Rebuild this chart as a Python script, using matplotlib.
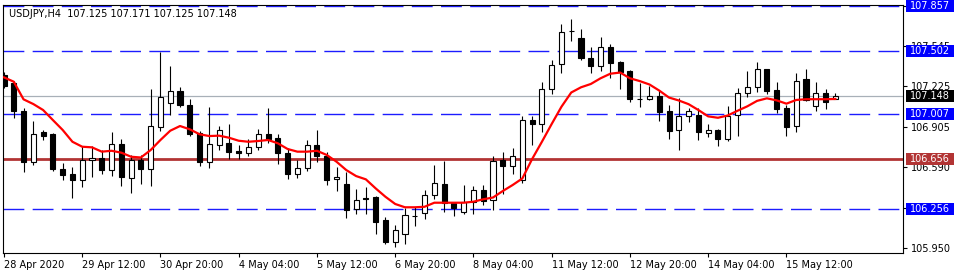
import matplotlib
matplotlib.use("Agg")
import matplotlib.pyplot as plt
from matplotlib.patches import Rectangle
from matplotlib.transforms import blended_transform_factory
import numpy as np

# USDJPY H4 bars
symbol = "USDJPY,H4"
opens = [107.314, 107.252, 107.035, 106.626, 106.862, 106.850, 106.578, 106.539, 106.488, 106.645,
         106.665, 106.563, 106.771, 106.507, 106.649, 106.578, 106.909, 107.098, 107.185, 107.078,
         106.858, 106.626, 106.767, 106.783, 106.716, 106.704, 106.744, 106.854, 106.818, 106.704,
         106.539, 106.586, 106.763, 106.677, 106.493, 106.456, 106.259, 106.346, 106.354, 106.173,
         105.996, 106.066, 106.204, 106.228, 106.370, 106.456, 106.307, 106.232, 106.311, 106.413,
         106.334, 106.645, 106.598, 106.488, 106.964, 106.929, 107.208, 107.401, 107.665, 107.610,
         107.452, 107.385, 107.533, 107.419, 107.348, 107.126, 107.122, 107.153, 107.035, 106.885,
         106.988, 106.996, 106.858, 106.885, 106.808, 106.999, 107.173, 107.218, 107.359, 107.196,
         107.052, 106.913, 107.281, 107.070, 107.175, 107.125]
highs = [107.338, 107.271, 107.055, 106.956, 106.882, 106.858, 106.618, 106.594, 106.752, 106.752,
         106.724, 106.862, 106.807, 106.681, 106.685, 107.204, 107.495, 107.389, 107.224, 107.129,
         106.870, 107.059, 106.917, 106.925, 106.763, 106.811, 106.893, 107.051, 106.854, 106.736,
         106.645, 106.799, 106.882, 106.712, 106.590, 106.551, 106.417, 106.429, 106.358, 106.200,
         106.133, 106.267, 106.275, 106.413, 106.606, 106.641, 106.314, 106.448, 106.437, 106.452,
         106.677, 106.712, 106.736, 106.992, 106.988, 107.263, 107.433, 107.716, 107.752, 107.674,
         107.533, 107.614, 107.559, 107.425, 107.354, 107.252, 107.232, 107.196, 107.078, 107.133,
         107.051, 107.051, 106.929, 106.889, 107.070, 107.210, 107.348, 107.419, 107.362, 107.257,
         107.078, 107.330, 107.359, 107.262, 107.202, 107.171]
lows = [107.212, 106.980, 106.551, 106.606, 106.799, 106.559, 106.488, 106.346, 106.433, 106.511,
        106.535, 106.523, 106.440, 106.389, 106.456, 106.437, 106.877, 106.996, 107.066, 106.834,
        106.598, 106.586, 106.728, 106.653, 106.653, 106.677, 106.724, 106.783, 106.614, 106.492,
        106.500, 106.555, 106.626, 106.448, 106.405, 106.192, 106.224, 106.224, 106.063, 105.984,
        105.964, 105.980, 106.122, 106.177, 106.342, 106.236, 106.204, 106.224, 106.220, 106.291,
        106.248, 106.377, 106.539, 106.468, 106.763, 106.862, 107.169, 107.330, 107.586, 107.433,
        107.328, 107.346, 107.291, 107.202, 107.104, 107.066, 107.118, 106.955, 106.808, 106.724,
        106.944, 106.803, 106.826, 106.755, 106.795, 106.838, 107.144, 107.183, 107.169, 107.013,
        106.834, 106.868, 107.112, 107.033, 107.044, 107.125]
closes = [107.228, 107.031, 106.626, 106.854, 106.838, 106.575, 106.527, 106.488, 106.649, 106.665,
          106.570, 106.771, 106.515, 106.649, 106.575, 106.913, 107.145, 107.185, 107.078, 106.854,
          106.626, 106.771, 106.882, 106.712, 106.700, 106.744, 106.854, 106.814, 106.704, 106.539,
          106.586, 106.763, 106.677, 106.488, 106.511, 106.255, 106.334, 106.338, 106.161, 105.996,
          106.098, 106.212, 106.208, 106.366, 106.464, 106.303, 106.267, 106.314, 106.413, 106.326,
          106.641, 106.598, 106.677, 106.964, 106.929, 107.208, 107.393, 107.657, 107.661, 107.452,
          107.385, 107.533, 107.413, 107.342, 107.122, 107.122, 107.152, 107.027, 106.876, 106.992,
          107.031, 106.862, 106.885, 106.811, 106.992, 107.175, 107.222, 107.359, 107.191, 107.044,
          106.903, 107.270, 107.118, 107.175, 107.104, 107.148]
ma_values = [107.296, 107.262, 107.123, 107.086, 107.039, 106.960, 106.882, 106.789, 106.750, 106.745,
             106.711, 106.718, 106.703, 106.671, 106.665, 106.724, 106.803, 106.876, 106.913, 106.887,
             106.848, 106.834, 106.837, 106.821, 106.797, 106.789, 106.795, 106.803, 106.777, 106.732,
             106.711, 106.711, 106.718, 106.685, 106.632, 106.566, 106.519, 106.493, 106.422, 106.356,
             106.299, 106.273, 106.273, 106.277, 106.309, 106.309, 106.309, 106.309, 106.317, 106.336,
             106.350, 106.401, 106.448, 106.500, 106.653, 106.789, 106.929, 107.065, 107.177, 107.218,
             107.244, 107.289, 107.325, 107.334, 107.289, 107.267, 107.240, 107.192, 107.137, 107.114,
             107.085, 107.039, 106.989, 106.978, 106.996, 107.033, 107.068, 107.111, 107.131, 107.115,
             107.089, 107.118, 107.124, 107.124, 107.124, 107.126]

date_labels = ["28 Apr 2020", "29 Apr 12:00", "30 Apr 20:00", "4 May 04:00", "5 May 12:00",
               "6 May 20:00", "8 May 04:00", "11 May 12:00", "12 May 20:00", "14 May 04:00",
               "15 May 12:00"]
price_ticks = [105.950, 106.270, 106.590, 106.905, 107.225, 107.545, 107.857]
blue_levels = [107.857, 107.502, 107.007, 106.256]
red_level = 106.656
bid_price = 107.148

BLUE = "#1c1cff"
RED_LEVEL = "#b23434"
Y_MIN, Y_MAX = 105.913, 107.866

plt.rcParams["font.family"] = "DejaVu Sans"
fig = plt.figure(figsize=(9.62, 2.78), dpi=100)
ax = fig.add_axes([3 / 962, 25 / 278, 900 / 962, 248 / 278])

o = np.array(opens)
h = np.array(highs)
l = np.array(lows)
c = np.array(closes)
x = np.arange(len(o))
up = c >= o

# candles: wicks first, bodies on top
ax.vlines(x, l, h, color="black", lw=0.8, zorder=2)
body_low = np.minimum(o, c)
body_len = np.maximum(np.abs(c - o), 0.002)
ax.bar(x[up], body_len[up], bottom=body_low[up], width=0.52,
       color="white", edgecolor="black", linewidth=0.8, zorder=3)
ax.bar(x[~up], body_len[~up], bottom=body_low[~up], width=0.52,
       color="black", edgecolor="black", linewidth=0.8, zorder=3)

ax.plot(x, ma_values, color="#ff0000", lw=1.6, zorder=4)

# horizontal levels
for lvl in blue_levels:
    ax.axhline(lvl, color=BLUE, lw=1.0, dashes=(15, 6), zorder=1)
ax.axhline(red_level, color=RED_LEVEL, lw=2.0, zorder=1)
ax.axhline(bid_price, color="#a8b0b8", lw=0.9, zorder=1)

ax.set_xlim(-0.1, 91.92)
ax.set_ylim(Y_MIN, Y_MAX)

ax.set_xticks(range(0, 8 * len(date_labels), 8))
ax.set_xticklabels(date_labels, ha="left")
ax.yaxis.tick_right()
ax.set_yticks(price_ticks)
ax.set_yticklabels([f"{v:.3f}" for v in price_ticks])
ax.tick_params(axis="both", direction="out", length=3, width=0.8, labelsize=7, colors="black")
ax.tick_params(axis="x", pad=2)
ax.tick_params(axis="y", pad=3)
for sp in ax.spines.values():
    sp.set_color("black")
    sp.set_linewidth(0.8)

# price labels on the right scale
trans = blended_transform_factory(ax.transAxes, ax.transData)
half = 6 * (Y_MAX - Y_MIN) / 248


def price_box(value, face):
    ax.add_patch(Rectangle((1.0028, value - half), 0.0539, 2 * half, transform=trans,
                           facecolor=face, edgecolor="none", clip_on=False, zorder=10))
    ax.text(1.0028 + 0.0539 / 2, value, f"{value:.3f}", transform=trans, color="white",
            fontsize=7, ha="center", va="center", clip_on=False, zorder=11)


for lvl in blue_levels:
    price_box(lvl, "#0000ff")
price_box(red_level, RED_LEVEL)
price_box(bid_price, "black")

ax.text(0.0067, 0.964,
        f"{symbol}  {opens[-1]:.3f} {highs[-1]:.3f} {lows[-1]:.3f} {closes[-1]:.3f}",
        transform=ax.transAxes, fontsize=7, color="black", ha="left", va="center")

fig.savefig("out.png", dpi=100, facecolor="white")
